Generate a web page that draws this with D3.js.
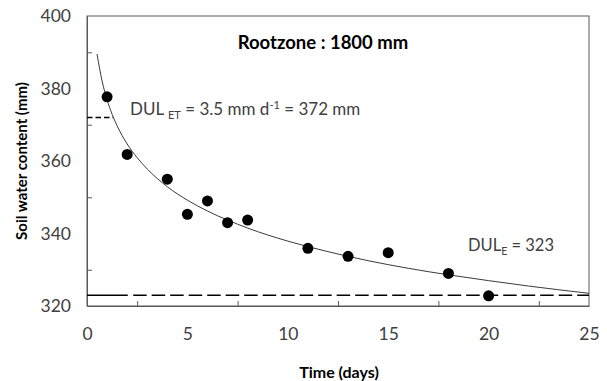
<!DOCTYPE html>
<html><head><meta charset="utf-8">
<script src="https://cdn.jsdelivr.net/npm/d3@7"></script>
<style>body{margin:0;background:#fff}svg{display:block}text{font-family:Lato,"Open Sans",sans-serif}</style>
</head><body>
<svg id="c" width="607" height="381"></svg>
<script>
// Observed soil water content
const days = [1, 2, 4, 5, 6, 7, 8, 11, 13, 15, 18, 20];
const water = [377.7, 361.8, 355.0, 345.3, 349.0, 343.0, 343.7, 335.9, 333.7, 334.7, 329.0, 322.8];
// Fitted curve
const curveDays = [0.5, 0.75, 1, 1.25, 1.5, 2, 2.5, 3, 4, 5, 6, 7, 8, 10, 12, 14, 16, 18, 20, 22, 25];
const curveWater = [389.5, 382.1, 376.9, 372.9, 369.7, 364.7, 360.9, 357.8, 352.9, 349.2, 346.2, 343.7, 341.5, 337.9, 335.0, 332.5, 330.4, 328.6, 327.0, 325.5, 323.5];
const dulET = 372, dulETend = 1.3;
const dulE = 323;
const xTicks = [0, 5, 10, 15, 20, 25];
const yTicks = [320, 340, 360, 380, 400];
const xMinor = [2.5, 7.5, 12.5, 17.5, 22.5];
const yMinor = [330, 350, 370, 390];

const svg = d3.select("#c");
const L = 87, R = 589, T = 16, B = 306;
const x = d3.scaleLinear().domain([0, 25]).range([L, R]);
const y = d3.scaleLinear().domain([320, 400]).range([B, T]);
const txtCol = "#404040";

// frame
svg.append("rect").attr("x", L).attr("y", T).attr("width", R - L).attr("height", B - T)
  .attr("fill", "none").attr("stroke", "#595959").attr("stroke-width", 1);

// axes (ticks inside)
const gx = svg.append("g").attr("transform", `translate(0,${B})`)
  .call(d3.axisBottom(x).tickValues(xTicks).tickSize(0).tickPadding(22).tickFormat(d3.format("d")));
gx.select(".domain").attr("stroke", "#595959");
gx.selectAll("text").attr("font-size", 17.5).attr("fill", txtCol);
svg.append("g").attr("transform", `translate(0,${B})`)
  .call(d3.axisTop(x).tickValues(xMinor).tickSize(5).tickFormat(""))
  .call(g => { g.select(".domain").remove(); g.selectAll("line").attr("stroke", "#595959"); });

const gy = svg.append("g").attr("transform", `translate(${L},0)`)
  .call(d3.axisLeft(y).tickValues(yTicks).tickSize(0).tickPadding(16).tickFormat(d3.format("d")));
gy.select(".domain").attr("stroke", "#595959");
gy.selectAll("text").attr("font-size", 17.5).attr("fill", txtCol);
svg.append("g").attr("transform", `translate(${L},0)`)
  .call(d3.axisRight(y).tickValues(yMinor).tickSize(5).tickFormat(""))
  .call(g => { g.select(".domain").remove(); g.selectAll("line").attr("stroke", "#595959"); });

// DUL_E dashed line
svg.append("line").attr("x1", x(0)).attr("x2", x(2.03)).attr("y1", y(dulE)).attr("y2", y(dulE))
  .attr("stroke", "#000").attr("stroke-width", 1.5);
svg.append("line").attr("x1", x(2.3)).attr("x2", x(25)).attr("y1", y(dulE)).attr("y2", y(dulE))
  .attr("stroke", "#000").attr("stroke-width", 1.5).attr("stroke-dasharray", "13.5,5");
// DUL_ET dashed line
svg.append("line").attr("x1", x(0)).attr("x2", x(dulETend)).attr("y1", y(dulET)).attr("y2", y(dulET))
  .attr("stroke", "#000").attr("stroke-width", 1.4).attr("stroke-dasharray", "5.5,3");

// fitted curve
const pts = curveDays.map((d, i) => [d, curveWater[i]]);
svg.append("path").datum(pts)
  .attr("d", d3.line().x(d => x(d[0])).y(d => y(d[1])).curve(d3.curveMonotoneX))
  .attr("fill", "none").attr("stroke", "#3a3a3a").attr("stroke-width", 1);

// points
svg.append("g").selectAll("circle").data(days).join("circle")
  .attr("cx", d => x(d)).attr("cy", (d, i) => y(water[i])).attr("r", 5.5).attr("fill", "#000");

// texts
svg.append("text").attr("x", 323).attr("y", 49).attr("text-anchor", "middle")
  .attr("font-size", 18.5).attr("font-weight", "bold").attr("fill", "#000").text("Rootzone : 1800 mm");

const t1 = svg.append("text").attr("x", 130).attr("y", 115).attr("font-size", 17).attr("fill", txtCol);
t1.append("tspan").text("DUL ");
t1.append("tspan").attr("font-size", 11).attr("dy", 4).text("ET");
t1.append("tspan").attr("dy", -4).text(" = 3.5 mm d");
t1.append("tspan").attr("font-size", 11).attr("dy", -6).text("-1");
t1.append("tspan").attr("dy", 6).text(" = 372 mm");

const t2 = svg.append("text").attr("x", 468).attr("y", 251).attr("font-size", 16.5).attr("fill", txtCol);
t2.append("tspan").text("DUL");
t2.append("tspan").attr("font-size", 10.5).attr("dy", 4).text("E");
t2.append("tspan").attr("dy", -4).text(" = 323");

svg.append("text").attr("x", 339).attr("y", 378).attr("text-anchor", "middle")
  .attr("font-size", 16).attr("font-weight", "bold").attr("fill", "#000").text("Time (days)");
svg.append("text").attr("transform", `translate(27,161) rotate(-90)`).attr("text-anchor", "middle")
  .attr("font-size", 15).attr("font-weight", "bold").attr("fill", "#000").text("Soil water content (mm)");
</script>
</body></html>
